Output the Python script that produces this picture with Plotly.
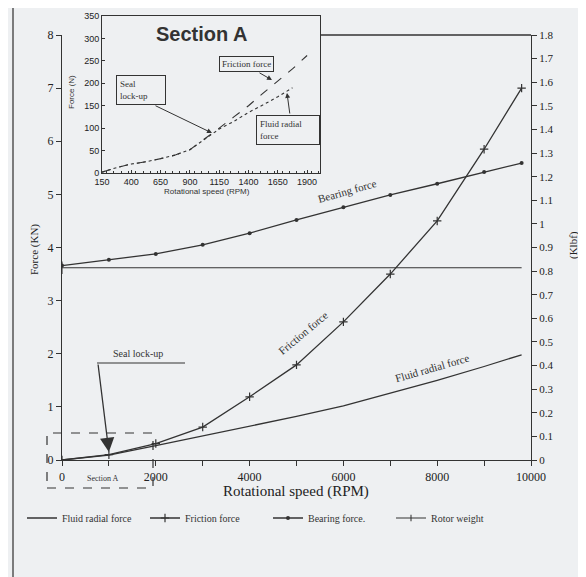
import plotly.graph_objects as go

# ---------------- data ----------------
rpm_main = [0, 1000, 2000, 3000, 4000, 5000, 6000, 7000, 8000, 9000, 9800]
fluid_radial = [0.0, 0.09, 0.27, 0.45, 0.63, 0.82, 1.02, 1.26, 1.50, 1.76, 1.98]
friction = [0.0, 0.10, 0.31, 0.62, 1.19, 1.79, 2.60, 3.50, 4.50, 5.85, 7.00]
bearing = [3.66, 3.77, 3.88, 4.05, 4.27, 4.52, 4.76, 4.99, 5.20, 5.42, 5.59]
rotor_rpm = [0, 9800]
rotor_weight = [3.62, 3.62]

rpm_inset = [150, 275, 400, 525, 650, 775, 900, 1025, 1150, 1275, 1400, 1525, 1650, 1775, 1900]
friction_inset = [2, 12, 20, 25, 32, 40, 52, 75, 100, 125, 150, 178, 205, 232, 262]
rpm_inset_fluid = [150, 275, 400, 525, 650, 775, 900, 1025, 1150, 1275, 1400, 1525, 1650, 1775]
fluid_inset = [2, 12, 20, 25, 32, 40, 52, 75, 98, 115, 135, 152, 170, 190]

x_ticks = list(range(0, 10001, 1000))
x_ticklabels = ["0", "", "2000", "", "4000", "", "6000", "", "8000", "", "10000"]
inset_x_ticks = [150, 400, 650, 900, 1150, 1400, 1650, 1900]

# ---------------- geometry helpers (screen pixel coords) ----------------
OFF = 8                      # page body margin
W, H = 586 - OFF, 577 - OFF
SL, SR, ST, SB = 62, 531, 16, 460    # plot area on screen
L, R, T, B = SL - OFF, SR - OFF, ST - OFF, SB - OFF
PW, PH = R - L, B - T


def px(x):
    return (x - SL) / PW


def py(y):
    return (SB - y) / PH


INK = "#333333"
BG = "#eef0f2"
SERIF = "Liberation Serif"
SANS = "Liberation Sans"

fig = go.Figure()

fig.add_trace(go.Scatter(x=rpm_main, y=fluid_radial, mode="lines", name="Fluid radial force",
                         line=dict(color=INK, width=1.3)))
fig.add_trace(go.Scatter(x=rpm_main, y=friction, mode="lines+markers", name="Friction force",
                         line=dict(color=INK, width=1.3),
                         marker=dict(symbol="cross-thin-open", size=6, line=dict(color=INK, width=1.2))))
fig.add_trace(go.Scatter(x=rpm_main, y=bearing, mode="lines+markers", name="Bearing force.",
                         line=dict(color=INK, width=1.3),
                         marker=dict(symbol="circle", size=4, color=INK)))
fig.add_trace(go.Scatter(x=rotor_rpm, y=rotor_weight, mode="lines+markers", name="Rotor weight",
                         line=dict(color=INK, width=1.1),
                         marker=dict(symbol="line-ns-open", size=[9, 0], line=dict(color=INK, width=1.5))))

# inset traces
fig.add_trace(go.Scatter(x=rpm_inset, y=friction_inset, mode="lines", xaxis="x2", yaxis="y2",
                         showlegend=False, line=dict(color=INK, width=1.1, dash="dash")))
fig.add_trace(go.Scatter(x=rpm_inset_fluid, y=fluid_inset, mode="lines", xaxis="x2", yaxis="y2",
                         showlegend=False, line=dict(color=INK, width=1.1, dash="dot")))
# dummy for right axis
fig.add_trace(go.Scatter(x=[0], y=[0], yaxis="y3", mode="markers", showlegend=False,
                         marker=dict(opacity=0), hoverinfo="skip"))

tickfont = dict(family=SERIF, size=12, color="#222")

fig.update_layout(
    width=W, height=H,
    margin=dict(l=L, r=W - R, t=T, b=H - B, autoexpand=False),
    paper_bgcolor=BG, plot_bgcolor=BG,
    showlegend=True,
    legend=dict(orientation="h", x=px(22), y=py(518), xanchor="left", yanchor="middle",
                font=dict(family=SERIF, size=10, color="#333"), bgcolor="rgba(0,0,0,0)",
                entrywidth=78, entrywidthmode="pixels", itemwidth=30),
    xaxis=dict(range=[0, 10000], domain=[0, 1], tickvals=x_ticks, ticktext=x_ticklabels,
               showline=True, linecolor=INK, linewidth=1.3, ticks="outside", ticklen=5,
               tickcolor=INK, showgrid=False, zeroline=False, tickfont=tickfont),
    yaxis=dict(range=[0, 8], domain=[0, py(35)], dtick=1, showline=True, linecolor=INK,
               linewidth=1.3, ticks="outside", ticklen=5, tickcolor=INK, showgrid=False,
               zeroline=False, tickfont=tickfont),
    yaxis3=dict(range=[0, 1.8], overlaying="y", side="right", dtick=0.1, showline=True,
                linecolor=INK, linewidth=1.3, ticks="outside", ticklen=5, tickcolor=INK,
                showgrid=False, zeroline=False, tickfont=dict(family=SERIF, size=11, color="#222")),
    xaxis2=dict(range=[150, 2010], domain=[px(102), px(320)], anchor="y2", tickvals=inset_x_ticks,
                showline=True, mirror=True, linecolor=INK, linewidth=1, ticks="inside", ticklen=3,
                tickcolor=INK, minor=dict(dtick=62.5, ticks="inside", ticklen=2, tickcolor=INK),
                showgrid=False, zeroline=False,
                tickfont=dict(family=SANS, size=9, color="#222")),
    yaxis2=dict(range=[0, 350], domain=[py(173), py(16)], anchor="x2", dtick=50,
                showline=True, mirror=True, linecolor=INK, linewidth=1, ticks="inside", ticklen=3,
                tickcolor=INK, showgrid=False, zeroline=False,
                tickfont=dict(family=SANS, size=9, color="#222")),
)

shapes = []
# outer page border (left and top)
shapes.append(dict(type="line", xref="paper", yref="paper", x0=px(13), x1=px(586), y0=py(5), y1=py(5),
                   line=dict(color="#555", width=1.2)))
shapes.append(dict(type="line", xref="paper", yref="paper", x0=px(13), x1=px(13), y0=py(5), y1=py(577),
                   line=dict(color="#555", width=1.5)))
# main top frame line (right of inset)
shapes.append(dict(type="line", xref="paper", yref="paper", x0=px(320), x1=px(531), y0=py(35), y1=py(35),
                   line=dict(color=INK, width=1.3)))
# Section A dashed box
shapes.append(dict(type="rect", xref="paper", yref="paper", x0=px(47), x1=px(153), y0=py(488), y1=py(433),
                   line=dict(color=INK, width=1.2, dash="dash")))
# seal lock-up underline
shapes.append(dict(type="line", xref="paper", yref="paper", x0=px(97), x1=px(185), y0=py(363), y1=py(363),
                   line=dict(color=INK, width=1.2)))
fig.update_layout(shapes=shapes)


def label(x, y, text, font, angle=0, **kw):
    d = dict(x=px(x), y=py(y), xref="paper", yref="paper", text=text, showarrow=False,
             xanchor="center", yanchor="middle", textangle=angle, font=font)
    d.update(kw)
    return d


ann = []
# axis titles
ann.append(label(296, 492, "Rotational speed (RPM)", dict(family=SERIF, size=15, color="#222")))
ann.append(label(35, 250, "Force (KN)", dict(family=SERIF, size=11, color="#222"), angle=-90))
ann.append(label(574, 245, "(Klbf)", dict(family=SERIF, size=11, color="#222"), angle=-90))
# curve labels
curvefont = dict(family=SERIF, size=11, color="#333")
ann.append(label(347, 191, "Bearing force", curvefont, angle=-16))
ann.append(label(303, 333, "Friction force", curvefont, angle=-40))
ann.append(label(432, 368, "Fluid radial force", curvefont, angle=-16))
# seal lock-up
ann.append(label(138, 353, "Seal lock-up", dict(family=SERIF, size=10, color="#333")))
ann.append(dict(x=1000, y=0.15, xref="x", yref="y", text="", showarrow=True, ax=-11, ay=-89,
                arrowhead=2, arrowsize=2.2, arrowwidth=1.3, arrowcolor=INK))
ann.append(label(103, 478, "Section A", dict(family=SERIF, size=8, color="#333")))
# inset texts
ann.append(label(202, 34, "<b>Section A</b>", dict(family=SANS, size=20, color="#333")))
ann.append(label(207, 192, "Rotational speed (RPM)", dict(family=SANS, size=8, color="#333")))
ann.append(label(71, 92, "Force (N)", dict(family=SANS, size=8, color="#333"), angle=-90))
boxfont = dict(family=SERIF, size=9, color="#333")
ann.append(label(246, 64, "Friction force", boxfont, bordercolor=INK, borderwidth=1, borderpad=2,
                 bgcolor=BG))
ann.append(label(141, 90, "Seal<br>lock-up", boxfont, align="left", bordercolor=INK, borderwidth=1,
                 borderpad=3, bgcolor=BG, width=42))
ann.append(label(288, 130, "Fluid radial<br>force", boxfont, align="left", bordercolor=INK, borderwidth=1,
                 borderpad=3, bgcolor=BG, width=56))
# inset arrows
ann.append(dict(x=px(272), y=py(80), xref="paper", yref="paper", text="", showarrow=True, ax=-14, ay=-8,
                arrowhead=2, arrowsize=1, arrowwidth=1, arrowcolor=INK))
ann.append(dict(x=px(212), y=py(133), xref="paper", yref="paper", text="", showarrow=True, ax=-58, ay=-28,
                arrowhead=2, arrowsize=1, arrowwidth=1, arrowcolor=INK))
ann.append(dict(x=px(287), y=py(93), xref="paper", yref="paper", text="", showarrow=True, ax=3, ay=22,
                arrowhead=2, arrowsize=1, arrowwidth=1, arrowcolor=INK))
fig.update_layout(annotations=ann)

fig.write_html("out.html")
